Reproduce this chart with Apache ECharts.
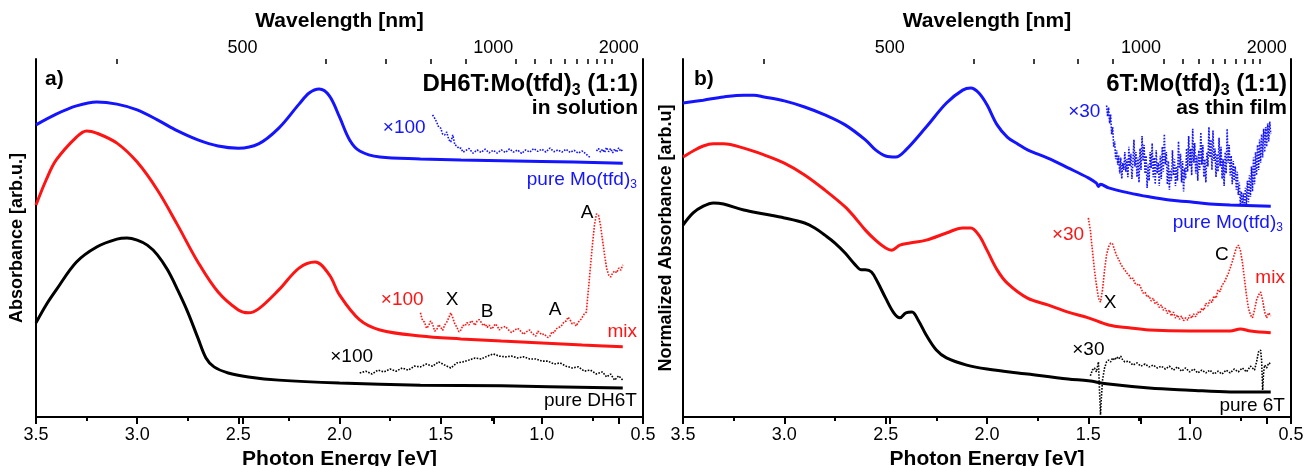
<!DOCTYPE html>
<html><head><meta charset="utf-8">
<script src="https://cdn.jsdelivr.net/npm/echarts@6/dist/echarts.min.js"></script>
<style>html,body{margin:0;padding:0;background:#fff}#c{width:1308px;height:466px}</style>
</head><body><div id="c"></div>
<script>
// ---------- tick labels ----------
const energyTicks = [3.5, 3.0, 2.5, 2.0, 1.5, 1.0, 0.5];
const wlMajor = [500, 1000, 2000];
const wlMinor = [400, 600, 700, 800, 900, 1100, 1200, 1300, 1400, 1500, 1600, 1700, 1800, 1900];

// ---------- panel a) DH6T:Mo(tfd)3 in solution : [photon energy eV, absorbance arb.u.] ----------
const aMo = [[3.5,81.6],[3.4,84.6],[3.3,86.9],[3.2,88.0],[3.1,87.4],[3.0,85.8],[2.9,83.0],[2.8,79.9],[2.7,77.4],[2.6,75.7],[2.5,75.1],[2.4,76.3],[2.3,80.7],[2.2,87.4],[2.15,90.5],[2.1,91.6],[2.05,89.7],[2.0,83.8],[1.95,77.4],[1.9,74.3],[1.8,72.6],[1.6,72.1],[1.4,71.8],[1.0,71.4],[0.6,70.9]];
const aMoX100 = [[1.54,84.4],[1.53,83.5],[1.52,82.4],[1.51,81.0],[1.50,80.7],[1.49,79.0],[1.48,78.8],[1.47,79.6],[1.46,77.5],[1.45,76.8],[1.44,78.8],[1.43,76.0],[1.42,75.7],[1.41,75.0],[1.40,75.1],[1.39,74.0],[1.38,74.3],[1.36,75.0],[1.34,73.7],[1.32,74.6],[1.30,73.9],[1.28,74.8],[1.26,73.8],[1.24,74.5],[1.22,73.7],[1.20,74.6],[1.18,73.9],[1.16,74.9],[1.14,74.0],[1.12,74.6],[1.10,73.6],[1.08,74.6],[1.06,74.0],[1.04,75.0],[1.02,74.2],[1.00,74.8],[0.98,74.0],[0.96,75.1],[0.94,74.1],[0.92,74.6],[0.90,74.0],[0.88,74.8],[0.86,73.9],[0.84,74.5],[0.82,73.7],[0.80,74.3],[0.78,73.4],[0.77,72.8],[0.76,72.5],[0.75,'-'],[0.73,74.3],[0.72,75.0],[0.71,74.0],[0.70,74.8],[0.69,73.9],[0.68,75.3],[0.67,74.1],[0.66,75.0],[0.65,73.8],[0.64,74.9],[0.63,74.0],[0.62,75.2],[0.61,74.2],[0.60,74.7]];
const aMix = [[3.5,59.2],[3.45,66.2],[3.4,71.8],[3.3,78.2],[3.25,79.9],[3.2,79.3],[3.1,76.5],[3.0,71.2],[2.9,63.4],[2.8,53.6],[2.7,43.3],[2.6,34.9],[2.5,29.9],[2.45,29.1],[2.4,30.2],[2.3,35.5],[2.2,41.6],[2.12,43.3],[2.05,39.7],[2.0,34.1],[1.9,27.1],[1.8,24.3],[1.6,22.6],[1.4,21.8],[1.2,21.2],[1.0,20.7],[0.8,20.1],[0.6,19.6]];
const aMixX100 = [[1.60,29.1],[1.59,27.0],[1.58,26.5],[1.57,24.8],[1.56,25.4],[1.55,26.8],[1.54,26.0],[1.53,24.0],[1.52,24.3],[1.51,25.8],[1.50,25.1],[1.49,24.2],[1.48,25.7],[1.47,26.5],[1.46,27.7],[1.45,29.1],[1.44,27.7],[1.43,26.0],[1.42,25.1],[1.41,23.8],[1.40,24.3],[1.39,25.6],[1.38,25.4],[1.37,26.4],[1.36,25.7],[1.35,26.9],[1.34,26.5],[1.33,25.6],[1.32,26.8],[1.31,27.2],[1.30,26.5],[1.29,25.5],[1.28,26.0],[1.27,25.0],[1.26,25.7],[1.25,24.6],[1.24,25.1],[1.23,26.0],[1.22,25.4],[1.21,24.3],[1.20,24.9],[1.18,25.3],[1.17,24.6],[1.15,23.6],[1.14,24.0],[1.12,24.8],[1.11,24.3],[1.09,23.1],[1.08,23.7],[1.06,24.3],[1.05,23.5],[1.03,22.6],[1.02,24.0],[1.00,23.0],[0.99,23.2],[0.97,22.2],[0.96,22.6],[0.95,23.8],[0.94,23.5],[0.93,24.6],[0.92,24.9],[0.91,25.2],[0.90,25.7],[0.89,26.6],[0.88,26.8],[0.87,27.9],[0.86,27.1],[0.85,26.0],[0.84,26.3],[0.83,25.4],[0.82,26.5],[0.81,27.0],[0.80,27.9],[0.79,28.8],[0.78,29.3],[0.77,35.5],[0.76,41.9],[0.75,48.0],[0.74,53.6],[0.73,56.7],[0.72,56.4],[0.71,53.6],[0.70,49.4],[0.69,45.3],[0.68,41.6],[0.67,39.7],[0.66,39.1],[0.65,40.2],[0.64,40.8],[0.63,40.3],[0.62,41.6],[0.61,41.0],[0.60,42.5]];
const aDH6T = [[3.5,26.3],[3.45,31.3],[3.4,35.5],[3.3,43.3],[3.2,47.5],[3.1,49.7],[3.05,50.0],[3.0,49.4],[2.95,48.0],[2.9,45.3],[2.85,41.1],[2.8,35.5],[2.75,29.3],[2.7,22.1],[2.66,16.5],[2.62,14.0],[2.55,12.3],[2.45,11.2],[2.3,10.3],[2.0,9.5],[1.6,8.9],[1.2,8.7],[0.6,8.1]];
const aDH6TX100 = [[1.90,12.3],[1.87,12.8],[1.84,12.0],[1.81,13.1],[1.78,12.6],[1.75,13.4],[1.72,12.8],[1.69,13.7],[1.66,13.1],[1.63,14.2],[1.60,14.0],[1.57,14.8],[1.54,14.2],[1.51,15.4],[1.48,14.5],[1.45,13.7],[1.42,15.1],[1.39,15.4],[1.36,15.9],[1.33,16.5],[1.30,16.2],[1.27,17.0],[1.24,17.6],[1.21,17.0],[1.18,16.8],[1.15,17.0],[1.12,16.5],[1.09,16.8],[1.06,16.2],[1.03,16.2],[1.00,15.6],[0.97,15.6],[0.94,14.8],[0.91,15.1],[0.88,14.2],[0.85,13.7],[0.82,14.0],[0.79,12.8],[0.76,13.1],[0.73,12.0],[0.70,12.6],[0.68,11.2],[0.66,12.0],[0.64,10.3],[0.62,11.5],[0.60,10.3]];

// ---------- panel b) 6T:Mo(tfd)3 as thin film ----------
const bMo = [[3.5,87.7],[3.4,88.5],[3.3,89.4],[3.2,89.9],[3.15,89.9],[3.1,89.4],[3.0,88.3],[2.9,86.6],[2.8,84.4],[2.7,81.6],[2.6,77.4],[2.55,74.6],[2.5,72.9],[2.45,72.6],[2.4,74.6],[2.3,81.0],[2.2,87.7],[2.12,91.3],[2.08,91.9],[2.04,90.5],[2.0,87.2],[1.95,81.6],[1.9,78.2],[1.85,76.3],[1.8,74.6],[1.7,72.3],[1.6,69.6],[1.5,66.8],[1.46,65.3],[1.45,64.4],[1.44,65.0],[1.4,64.0],[1.3,62.6],[1.2,61.5],[1.1,60.6],[1.0,60.1],[0.9,59.5],[0.8,59.2],[0.6,58.9]];
const bMoX30 = [[1.410,87.0],[1.405,84.0],[1.400,86.5],[1.395,82.0],[1.390,84.5],[1.385,79.0],[1.380,81.0],[1.375,75.5],[1.370,77.0],[1.365,72.0],[1.360,74.5],[1.355,70.5],[1.350,73.0],[1.345,68.0],[1.340,72.5],[1.335,66.5],[1.330,71.0],[1.325,69.0],[1.320,74.0],[1.315,68.5],[1.310,72.0],[1.305,67.0],[1.300,75.5],[1.295,70.0],[1.290,73.5],[1.285,66.5],[1.280,71.0],[1.275,77.5],[1.270,70.0],[1.265,74.0],[1.260,67.0],[1.255,72.5],[1.250,65.5],[1.245,75.0],[1.240,69.0],[1.235,78.5],[1.230,71.5],[1.225,76.0],[1.220,68.0],[1.215,73.0],[1.210,64.0],[1.205,70.5],[1.200,66.0],[1.195,74.0],[1.190,69.5],[1.185,76.5],[1.180,67.0],[1.175,72.5],[1.170,65.0],[1.165,74.5],[1.160,68.0],[1.155,71.0],[1.150,64.5],[1.145,73.0],[1.140,66.5],[1.135,75.5],[1.130,68.5],[1.125,79.0],[1.120,70.5],[1.115,74.0],[1.110,65.0],[1.105,71.5],[1.100,63.5],[1.095,69.0],[1.090,66.0],[1.085,74.5],[1.080,67.5],[1.075,72.0],[1.070,64.5],[1.065,70.0],[1.060,66.0],[1.055,77.0],[1.050,69.5],[1.045,73.5],[1.040,65.5],[1.035,71.5],[1.030,63.0],[1.025,69.5],[1.020,66.5],[1.015,75.0],[1.010,68.5],[1.005,78.5],[1.000,70.0],[0.995,75.0],[0.990,67.5],[0.985,80.5],[0.980,71.0],[0.975,76.5],[0.970,68.0],[0.965,73.0],[0.960,66.0],[0.955,74.5],[0.950,69.0],[0.945,79.5],[0.940,70.5],[0.935,76.0],[0.930,67.0],[0.925,72.0],[0.920,65.5],[0.915,74.0],[0.910,70.0],[0.905,81.0],[0.900,72.5],[0.895,77.5],[0.890,69.0],[0.885,80.0],[0.880,71.5],[0.875,75.0],[0.870,67.0],[0.865,73.5],[0.860,68.5],[0.855,78.0],[0.850,70.0],[0.845,75.5],[0.840,66.5],[0.835,72.0],[0.830,64.5],[0.825,74.0],[0.820,68.0],[0.815,80.5],[0.810,71.0],[0.805,76.0],[0.800,67.5],[0.795,73.0],[0.790,65.0],[0.785,71.5],[0.780,66.0],[0.775,70.0],[0.770,63.5],[0.765,68.5],[0.760,62.0],[0.755,65.5],[0.750,59.5],[0.745,63.0],[0.740,58.8],[0.735,62.5],[0.730,59.0],[0.725,64.0],[0.720,59.2],[0.715,66.0],[0.710,60.0],[0.705,67.5],[0.700,61.5],[0.695,70.0],[0.690,63.0],[0.685,72.5],[0.680,65.0],[0.675,74.0],[0.670,67.5],[0.665,76.0],[0.660,69.0],[0.655,77.5],[0.650,71.0],[0.645,79.0],[0.640,72.5],[0.635,80.5],[0.630,74.0],[0.625,81.0],[0.620,75.5],[0.615,82.0],[0.610,77.0],[0.605,82.5],[0.600,79.0]];
const bMix = [[3.5,72.6],[3.45,74.3],[3.4,75.7],[3.35,76.3],[3.3,76.3],[3.2,75.1],[3.1,73.2],[3.0,70.9],[2.9,67.6],[2.8,63.4],[2.7,58.7],[2.65,55.6],[2.6,52.2],[2.55,49.4],[2.5,47.2],[2.47,46.6],[2.43,48.0],[2.38,48.6],[2.3,49.4],[2.2,51.4],[2.12,52.8],[2.08,52.8],[2.04,50.8],[2.0,46.6],[1.95,41.1],[1.9,37.4],[1.8,33.2],[1.7,31.3],[1.6,29.3],[1.5,27.7],[1.4,25.7],[1.3,24.9],[1.2,24.3],[1.0,24.0],[0.8,24.0],[0.75,24.6],[0.7,24.0],[0.6,23.5]];
const bMixX30 = [[1.50,55.6],[1.49,52.2],[1.48,46.6],[1.47,41.1],[1.46,36.9],[1.45,33.2],[1.44,32.1],[1.43,35.5],[1.42,41.1],[1.41,45.3],[1.40,47.5],[1.39,48.6],[1.38,48.3],[1.37,46.6],[1.36,45.0],[1.35,44.0],[1.34,42.7],[1.33,41.8],[1.32,41.1],[1.31,40.2],[1.30,39.7],[1.29,38.5],[1.28,38.8],[1.27,37.4],[1.26,36.9],[1.25,37.2],[1.24,36.0],[1.23,34.6],[1.22,34.9],[1.21,33.5],[1.20,33.8],[1.19,32.4],[1.18,33.2],[1.17,31.6],[1.16,32.1],[1.15,30.6],[1.14,31.3],[1.13,29.8],[1.12,30.4],[1.11,28.9],[1.10,29.9],[1.09,28.2],[1.08,29.3],[1.07,27.6],[1.06,28.5],[1.05,27.3],[1.04,28.2],[1.03,26.9],[1.02,27.7],[1.01,27.0],[1.00,28.5],[0.99,27.6],[0.98,28.8],[0.97,28.0],[0.96,29.3],[0.95,29.0],[0.94,30.4],[0.93,29.8],[0.92,31.8],[0.91,31.0],[0.90,32.7],[0.89,32.0],[0.88,33.8],[0.87,33.2],[0.86,35.5],[0.85,35.0],[0.84,36.9],[0.83,37.5],[0.82,38.8],[0.81,40.0],[0.80,41.6],[0.79,43.4],[0.78,45.3],[0.77,47.2],[0.76,48.0],[0.75,46.6],[0.74,43.3],[0.73,38.8],[0.72,34.1],[0.71,30.4],[0.70,28.5],[0.69,27.7],[0.68,29.9],[0.67,32.7],[0.66,34.1],[0.65,34.9],[0.64,32.7],[0.63,29.3],[0.62,27.7],[0.61,29.1],[0.60,28.2]];
const b6T = [[3.5,53.6],[3.45,57.0],[3.4,58.9],[3.35,59.8],[3.3,59.5],[3.2,57.8],[3.1,56.7],[3.0,55.6],[2.9,54.2],[2.85,52.8],[2.8,50.8],[2.75,48.6],[2.7,45.8],[2.65,42.5],[2.62,41.1],[2.6,41.1],[2.57,40.5],[2.54,37.7],[2.5,33.2],[2.46,29.1],[2.43,27.7],[2.4,29.1],[2.37,29.3],[2.34,27.1],[2.3,22.9],[2.25,18.7],[2.2,16.5],[2.1,14.5],[2.0,13.4],[1.8,12.0],[1.6,10.6],[1.5,10.1],[1.4,9.2],[1.2,8.1],[1.0,7.5],[0.8,7.0],[0.6,7.0]];
const b6TX30 = [[1.49,11.5],[1.48,13.1],[1.47,13.7],[1.46,12.6],[1.45,15.4],[1.445,7.5],[1.44,0.6],[1.435,6.1],[1.43,10.3],[1.42,13.7],[1.41,15.4],[1.40,15.9],[1.39,15.4],[1.38,16.5],[1.37,15.9],[1.36,16.8],[1.35,16.2],[1.34,17.0],[1.33,15.9],[1.32,15.4],[1.30,15.6],[1.28,14.5],[1.26,15.1],[1.24,14.2],[1.22,14.8],[1.20,14.0],[1.18,14.5],[1.16,13.7],[1.14,14.2],[1.12,13.4],[1.10,14.2],[1.08,13.1],[1.06,14.0],[1.04,12.8],[1.02,13.7],[1.00,12.6],[0.98,13.4],[0.96,12.3],[0.94,13.1],[0.92,12.3],[0.90,13.1],[0.88,12.0],[0.86,12.8],[0.84,12.0],[0.82,13.1],[0.80,12.3],[0.78,13.4],[0.76,12.6],[0.74,13.7],[0.72,12.6],[0.70,14.2],[0.68,13.1],[0.67,15.4],[0.66,18.2],[0.65,18.7],[0.645,15.9],[0.64,7.5],[0.635,12.6],[0.63,14.5],[0.62,13.7],[0.61,15.1],[0.60,14.8]];

// ---------- annotations: [panel, energy, absorbance, text, colour, align] ----------
const annotations = [
  [0, 1.68, 80.7, '×100', '#1414ff', 'center'],
  [0, 0.53, 66.2, '{t|pure Mo(tfd)}{s|3}', '#1414ff', 'right'],
  [0, 1.69, 32.7, '×100', '#ff1414', 'center'],
  [0, 1.444, 32.7, 'X', '#000', 'center'],
  [0, 1.27, 29.3, 'B', '#000', 'center'],
  [0, 0.935, 29.9, 'A', '#000', 'center'],
  [0, 0.776, 57.0, 'A', '#000', 'center'],
  [0, 0.53, 23.7, 'mix', '#ff1414', 'right'],
  [0, 1.94, 16.8, '×100', '#000', 'center'],
  [0, 0.53, 4.5, 'pure DH6T', '#000', 'right'],
  [1, 1.52, 85.2, '×30', '#1414ff', 'center'],
  [1, 0.54, 54.2, '{t|pure Mo(tfd)}{s|3}', '#1414ff', 'right'],
  [1, 1.60, 50.8, '×30', '#ff1414', 'center'],
  [1, 1.393, 31.8, 'X', '#000', 'center'],
  [1, 0.841, 45.3, 'C', '#000', 'center'],
  [1, 0.53, 38.8, 'mix', '#ff1414', 'right'],
  [1, 1.50, 18.7, '×30', '#000', 'center'],
  [1, 0.53, 3.1, 'pure 6T', '#000', 'right']
];

const FONT = "'Liberation Sans', Arial, sans-serif";
const BLUE = '#1414ff', RED = '#ff1414', BLACK = '#000';
const toEV = nm => 1239.84 / nm;

function bottomAxis(g, name) {
  return { type: 'value', gridIndex: g, position: 'bottom', min: 0.5, max: 3.5, interval: 0.5, inverse: true,
    axisLine: { show: true, lineStyle: { color: '#000', width: 2 } },
    axisTick: { show: true, inside: false, length: 7, lineStyle: { color: '#000', width: 2 } },
    minorTick: { show: true, splitNumber: 2, length: 4, lineStyle: { color: '#000', width: 2 } },
    axisLabel: { show: true, margin: 9, color: '#000', fontSize: 18, fontFamily: FONT, showMinLabel: true, showMaxLabel: true,
      formatter: v => v.toFixed(1) },
    splitLine: { show: false }, minorSplitLine: { show: false },
    name: name, nameLocation: 'middle', nameGap: 31,
    nameTextStyle: { color: '#000', fontSize: 21, fontWeight: 'bold', fontFamily: FONT } };
}
function topMajor(g) {
  const vals = wlMajor.map(toEV);
  return { type: 'value', gridIndex: g, position: 'top', min: 0.5, max: 3.5, inverse: true,
    axisLine: { show: true, lineStyle: { color: '#000', width: 2 } },
    axisTick: { show: true, inside: true, length: 7, customValues: vals, lineStyle: { color: '#000', width: 2 } },
    axisLabel: { show: true, margin: 2, color: '#000', fontSize: 18, fontFamily: FONT, customValues: vals,
      formatter: v => String(Math.round(1239.84 / v)) },
    splitLine: { show: false },
    name: 'Wavelength [nm]', nameLocation: 'middle', nameGap: 27,
    nameTextStyle: { color: '#000', fontSize: 21, fontWeight: 'bold', fontFamily: FONT } };
}
function topMinor(g) {
  const vals = wlMinor.map(toEV);
  return { type: 'value', gridIndex: g, position: 'top', min: 0.5, max: 3.5, inverse: true,
    axisLine: { show: false },
    axisTick: { show: true, inside: true, length: 5, customValues: vals, lineStyle: { color: '#000', width: 1.5 } },
    axisLabel: { show: false }, splitLine: { show: false } };
}
function yLeft(g, name, gap) {
  return { type: 'value', gridIndex: g, position: 'left', min: 0, max: 100,
    axisLine: { show: true, lineStyle: { color: '#000', width: 2 } },
    axisTick: { show: false }, axisLabel: { show: false }, splitLine: { show: false },
    name: name, nameLocation: 'middle', nameGap: gap,
    nameTextStyle: { color: '#000', fontSize: 18, fontWeight: 'bold', fontFamily: FONT } };
}
function yRight(g) {
  return { type: 'value', gridIndex: g, position: 'right', min: 0, max: 100,
    axisLine: { show: true, lineStyle: { color: '#000', width: 2 } },
    axisTick: { show: false }, axisLabel: { show: false }, splitLine: { show: false } };
}
function solid(data, color, xi, yi) {
  return { type: 'line', data, xAxisIndex: xi, yAxisIndex: yi, showSymbol: false, symbol: 'none', smooth: 0.35,
    lineStyle: { color, width: 3 }, z: 3, silent: true, animation: false };
}
function dotted(data, color, xi, yi) {
  return { type: 'line', data, xAxisIndex: xi, yAxisIndex: yi, showSymbol: false, symbol: 'none',
    lineStyle: { color, width: 1.6, type: [1.6, 1.4] }, z: 2, silent: true, animation: false };
}

const chart = echarts.init(document.getElementById('c'), null, { renderer: 'canvas' });
chart.setOption({
  backgroundColor: '#fff',
  animation: false,
  grid: [
    { left: 36, top: 59, width: 607, height: 358, containLabel: false, outerBoundsMode: 'none' },
    { left: 683, top: 59, width: 608, height: 358, containLabel: false, outerBoundsMode: 'none' }
  ],
  xAxis: [
    bottomAxis(0, 'Photon Energy [eV]'), topMajor(0), topMinor(0),
    bottomAxis(1, 'Photon Energy [eV]'), topMajor(1), topMinor(1)
  ],
  yAxis: [
    yLeft(0, 'Absorbance [arb.u.]', 10), yRight(0),
    yLeft(1, 'Normalized Absorbance [arb.u]', 8), yRight(1)
  ],
  series: [
    solid(aMo, BLUE, 0, 0), dotted(aMoX100, BLUE, 0, 0),
    solid(aMix, RED, 0, 0), dotted(aMixX100, RED, 0, 0),
    solid(aDH6T, BLACK, 0, 0), dotted(aDH6TX100, BLACK, 0, 0),
    solid(bMo, BLUE, 3, 2), dotted(bMoX30, BLUE, 3, 2),
    solid(bMix, RED, 3, 2), dotted(bMixX30, RED, 3, 2),
    solid(b6T, BLACK, 3, 2), dotted(b6TX30, BLACK, 3, 2)
  ]
});

const rich = (size, weight) => ({
  t: { fontSize: size, fontWeight: weight, fontFamily: FONT },
  s: { fontSize: Math.round(size * 0.65), fontWeight: weight, fontFamily: FONT, padding: [Math.round(size * 0.55), 0, 0, 0] }
});
const graphics = [];
function addText(x, y, text, color, align, size, weight) {
  graphics.push({ type: 'text', x, y, silent: true, z: 10,
    style: { text, fill: color, align, verticalAlign: 'middle', font: `${weight} ${size}px ${FONT}`, rich: rich(size, weight) } });
}
// panel titles
addText(45, 79, 'a)', '#000', 'left', 21, 'bold');
addText(638, 84, '{t|DH6T:Mo(tfd)}{s|3}{t| (1:1)}', '#000', 'right', 24, 'bold');
addText(638, 108, 'in solution', '#000', 'right', 21, 'bold');
addText(694, 79, 'b)', '#000', 'left', 21, 'bold');
addText(1287, 84, '{t|6T:Mo(tfd)}{s|3}{t| (1:1)}', '#000', 'right', 24, 'bold');
addText(1287, 108, 'as thin film', '#000', 'right', 21, 'bold');
// curve annotations placed by data coordinates
annotations.forEach(([p, e, v, text, color, align]) => {
  const px = chart.convertToPixel({ xAxisIndex: p === 0 ? 0 : 3, yAxisIndex: p === 0 ? 0 : 2 }, [e, v]);
  addText(px[0], px[1], text, color, align, 19, 'normal');
});
chart.setOption({ graphic: graphics });
</script></body></html>
